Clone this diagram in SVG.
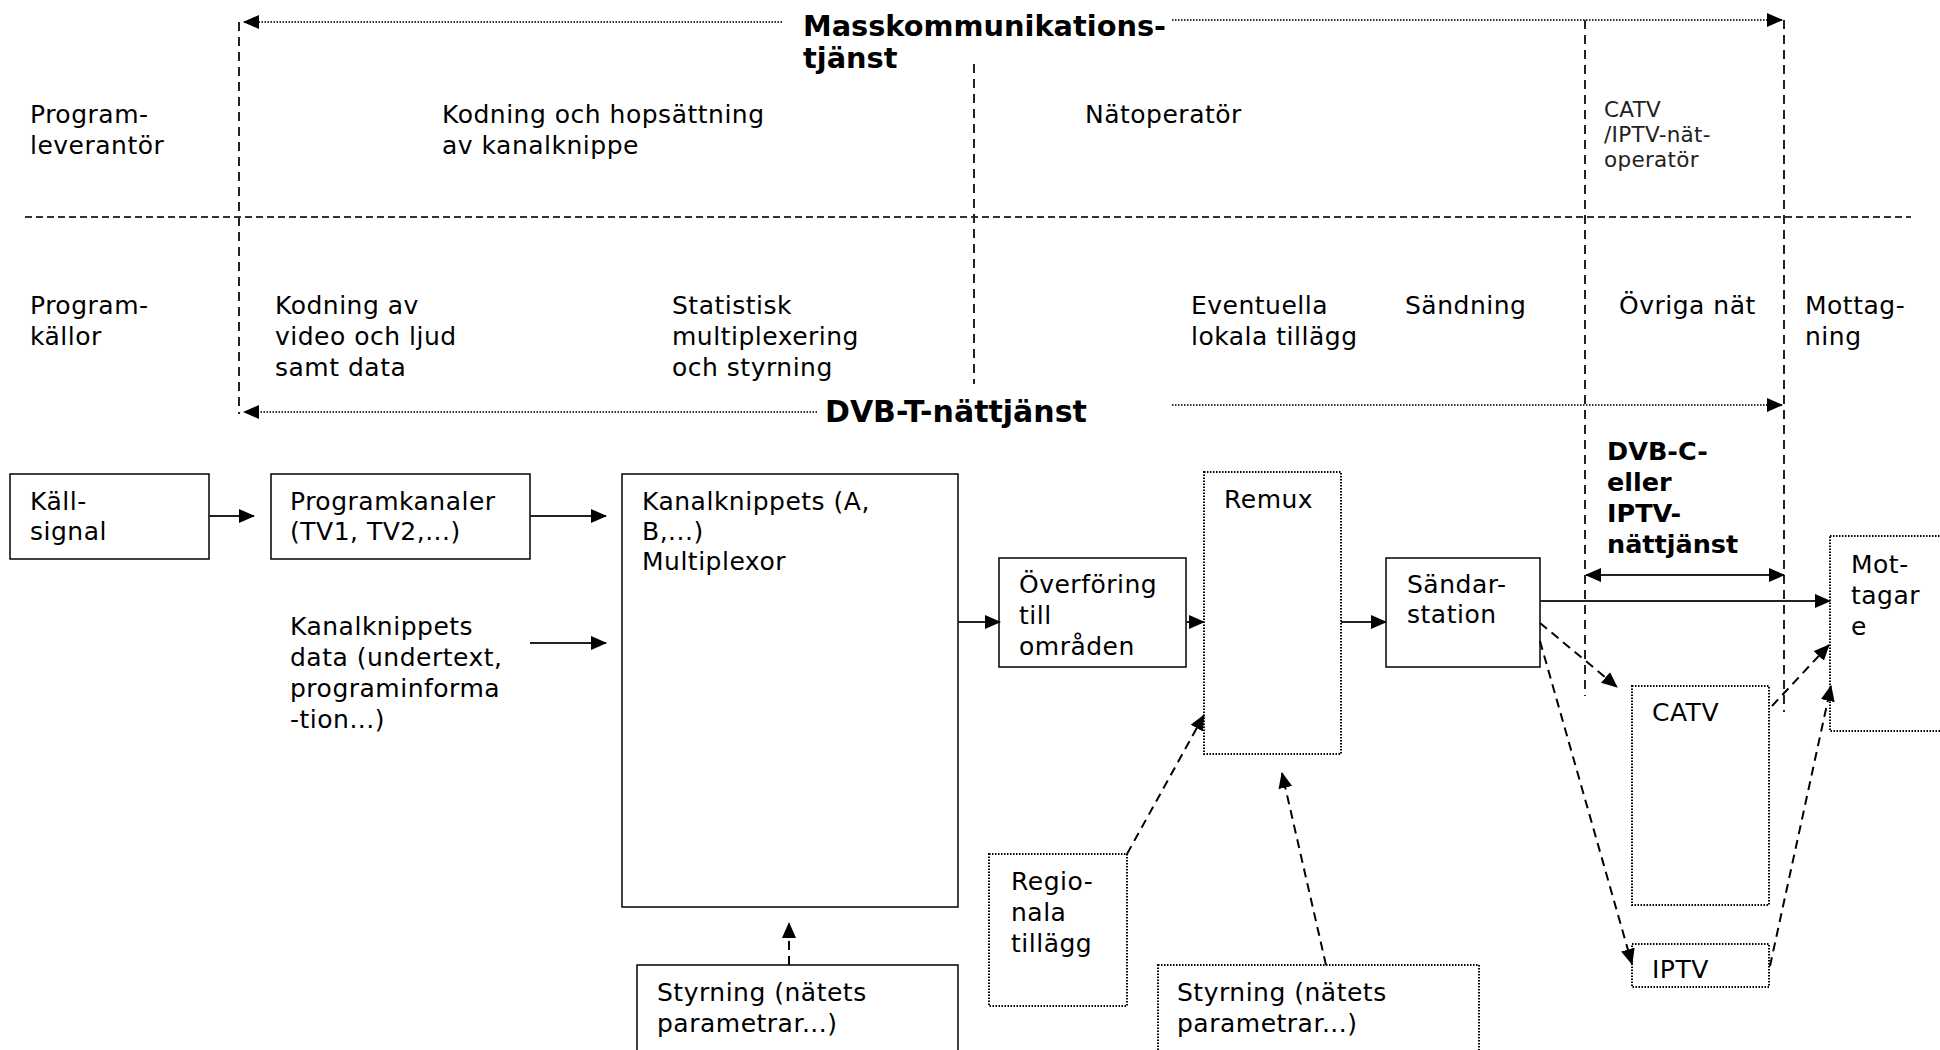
<svg xmlns="http://www.w3.org/2000/svg" width="1940" height="1050" viewBox="0 0 1940 1050">
<style>
text{font-family:"DejaVu Sans","Verdana",sans-serif;font-size:25px;letter-spacing:0.5px;fill:#000}
.b{font-weight:bold;font-size:28.8px;letter-spacing:0}
.bt{font-weight:bold;font-size:30px;letter-spacing:0}
.bc{font-weight:bold;font-size:25.5px;letter-spacing:0}
.s{font-size:21.5px;letter-spacing:0.3px;fill:#222}
.box{fill:#fff;stroke:#000;stroke-width:1.5}
.dbox{fill:#fff;stroke:#000;stroke-width:2;stroke-dasharray:1.5 1.5}
.c{fill:none;stroke:#222;stroke-width:2}
.d{fill:none;stroke:#000;stroke-width:2;stroke-dasharray:9 6}
.dot{fill:none;stroke:#333;stroke-width:2;stroke-dasharray:1.5 1.5}
.grid{fill:none;stroke:#222;stroke-width:2;stroke-dasharray:9 6}
.hgrid{fill:none;stroke:#333;stroke-width:2;stroke-dasharray:7 4}
</style>
<defs>
<marker id="ah" markerUnits="userSpaceOnUse" markerWidth="16" markerHeight="14" refX="15" refY="7" orient="auto-start-reverse" viewBox="0 0 16 14">
<path d="M0,0 L16,7 L0,14 z" fill="#000"/>
</marker>
</defs>

<g id="grid-lines">
<line class="hgrid" x1="25" y1="217" x2="1911" y2="217"/>
<line class="grid" x1="239" y1="22" x2="239" y2="414"/>
<line class="grid" x1="974" y1="64" x2="974" y2="384"/>
<line class="grid" x1="1585" y1="20" x2="1585" y2="696"/>
<line class="grid" x1="1784" y1="20" x2="1784" y2="712"/>
</g>

<g id="labels">
<text x="30" y="123">Program-</text>
<text x="30" y="154">leverantör</text>
<text x="442" y="123">Kodning och hopsättning</text>
<text x="442" y="154">av kanalknippe</text>
<text x="1085" y="123">Nätoperatör</text>
<text class="s" x="1604" y="117">CATV</text>
<text class="s" x="1604" y="142">/IPTV-nät-</text>
<text class="s" x="1604" y="167">operatör</text>
<text x="30" y="314">Program-</text>
<text x="30" y="345">källor</text>
<text x="275" y="314">Kodning av</text>
<text x="275" y="345">video och ljud</text>
<text x="275" y="376">samt data</text>
<text x="672" y="314">Statistisk</text>
<text x="672" y="345">multiplexering</text>
<text x="672" y="376">och styrning</text>
<text x="1191" y="314">Eventuella</text>
<text x="1191" y="345">lokala tillägg</text>
<text x="1405" y="314">Sändning</text>
<text x="1619" y="314">Övriga nät</text>
<text x="1805" y="314">Mottag-</text>
<text x="1805" y="345">ning</text>
<text class="b" x="803" y="36">Masskommunikations-</text>
<text class="b" x="803" y="68">tjänst</text>
<text class="bt" x="825" y="422">DVB-T-nättjänst</text>
<text class="bc" x="1607" y="460">DVB-C-</text>
<text class="bc" x="1607" y="491">eller</text>
<text class="bc" x="1607" y="522">IPTV-</text>
<text class="bc" x="1607" y="553">nättjänst</text>
<text x="290" y="635">Kanalknippets</text>
<text x="290" y="666">data (undertext,</text>
<text x="290" y="697">programinforma</text>
<text x="290" y="728">-tion...)</text>
</g>

<g id="node-kallsignal">
<rect class="box" x="10" y="474" width="199" height="85"/>
<text x="30" y="510">Käll-</text>
<text x="30" y="540">signal</text>
</g>
<g id="node-programkanaler">
<rect class="box" x="271" y="474" width="259" height="85"/>
<text x="290" y="510">Programkanaler</text>
<text x="290" y="540">(TV1, TV2,...)</text>
</g>
<g id="node-multiplexor">
<rect class="box" x="622" y="474" width="336" height="433"/>
<text x="642" y="510">Kanalknippets (A,</text>
<text x="642" y="540">B,...)</text>
<text x="642" y="570">Multiplexor</text>
</g>
<g id="node-styrning-1">
<rect class="box" x="637" y="965" width="321" height="110"/>
<text x="657" y="1001">Styrning (nätets</text>
<text x="657" y="1032">parametrar...)</text>
</g>
<g id="node-overforing">
<rect class="box" x="999" y="558" width="187" height="109"/>
<text x="1019" y="593">Överföring</text>
<text x="1019" y="624">till</text>
<text x="1019" y="655">områden</text>
</g>
<g id="node-remux">
<rect class="dbox" x="1204" y="472" width="137" height="282"/>
<text x="1224" y="508">Remux</text>
</g>
<g id="node-sandarstation">
<rect class="box" x="1386" y="558" width="154" height="109"/>
<text x="1407" y="593">Sändar-</text>
<text x="1407" y="623">station</text>
</g>
<g id="node-regionala">
<rect class="dbox" x="989" y="854" width="138" height="152"/>
<text x="1011" y="890">Regio-</text>
<text x="1011" y="921">nala</text>
<text x="1011" y="952">tillägg</text>
</g>
<g id="node-styrning-2">
<rect class="dbox" x="1158" y="965" width="321" height="110"/>
<text x="1177" y="1001">Styrning (nätets</text>
<text x="1177" y="1032">parametrar...)</text>
</g>
<g id="node-catv">
<rect class="dbox" x="1632" y="686" width="137" height="219"/>
<text x="1652" y="721">CATV</text>
</g>
<g id="node-iptv">
<rect class="dbox" x="1632" y="944" width="137" height="43"/>
<text x="1652" y="978">IPTV</text>
</g>
<g id="node-mottagare">
<rect class="dbox" x="1830" y="536" width="130" height="195"/>
<text x="1851" y="573">Mot-</text>
<text x="1851" y="604">tagar</text>
<text x="1851" y="635">e</text>
</g>

<g id="connectors">
<line class="dot" x1="782" y1="22" x2="244" y2="22" marker-end="url(#ah)"/>
<line class="dot" x1="1172" y1="20" x2="1782" y2="20" marker-end="url(#ah)"/>
<line class="dot" x1="817" y1="412" x2="244" y2="412" marker-end="url(#ah)"/>
<line class="dot" x1="1172" y1="405" x2="1782" y2="405" marker-end="url(#ah)"/>
<line class="c" x1="209" y1="516" x2="254" y2="516" marker-end="url(#ah)"/>
<line class="c" x1="530" y1="516" x2="606" y2="516" marker-end="url(#ah)"/>
<line class="c" x1="530" y1="643" x2="606" y2="643" marker-end="url(#ah)"/>
<line class="c" x1="958" y1="622" x2="1000" y2="622" marker-end="url(#ah)"/>
<line class="c" x1="1186" y1="622" x2="1204" y2="622" marker-end="url(#ah)"/>
<line class="c" x1="1341" y1="622" x2="1386" y2="622" marker-end="url(#ah)"/>
<line class="c" x1="1540" y1="601" x2="1830" y2="601" marker-end="url(#ah)"/>
<line class="c" x1="1586" y1="575" x2="1784" y2="575" marker-start="url(#ah)" marker-end="url(#ah)"/>
<line class="d" x1="1540" y1="623" x2="1617" y2="687" marker-end="url(#ah)"/>
<line class="d" x1="1540" y1="641" x2="1632" y2="964" marker-end="url(#ah)"/>
<line class="d" x1="1772" y1="706" x2="1829" y2="645" marker-end="url(#ah)"/>
<line class="d" x1="1770" y1="966" x2="1831" y2="686" marker-end="url(#ah)"/>
<line class="d" x1="1127" y1="854" x2="1204" y2="715" marker-end="url(#ah)"/>
<line class="d" x1="1326" y1="965" x2="1282" y2="773" marker-end="url(#ah)"/>
<line class="d" x1="789" y1="965" x2="789" y2="923" marker-end="url(#ah)"/>
</g>
</svg>
